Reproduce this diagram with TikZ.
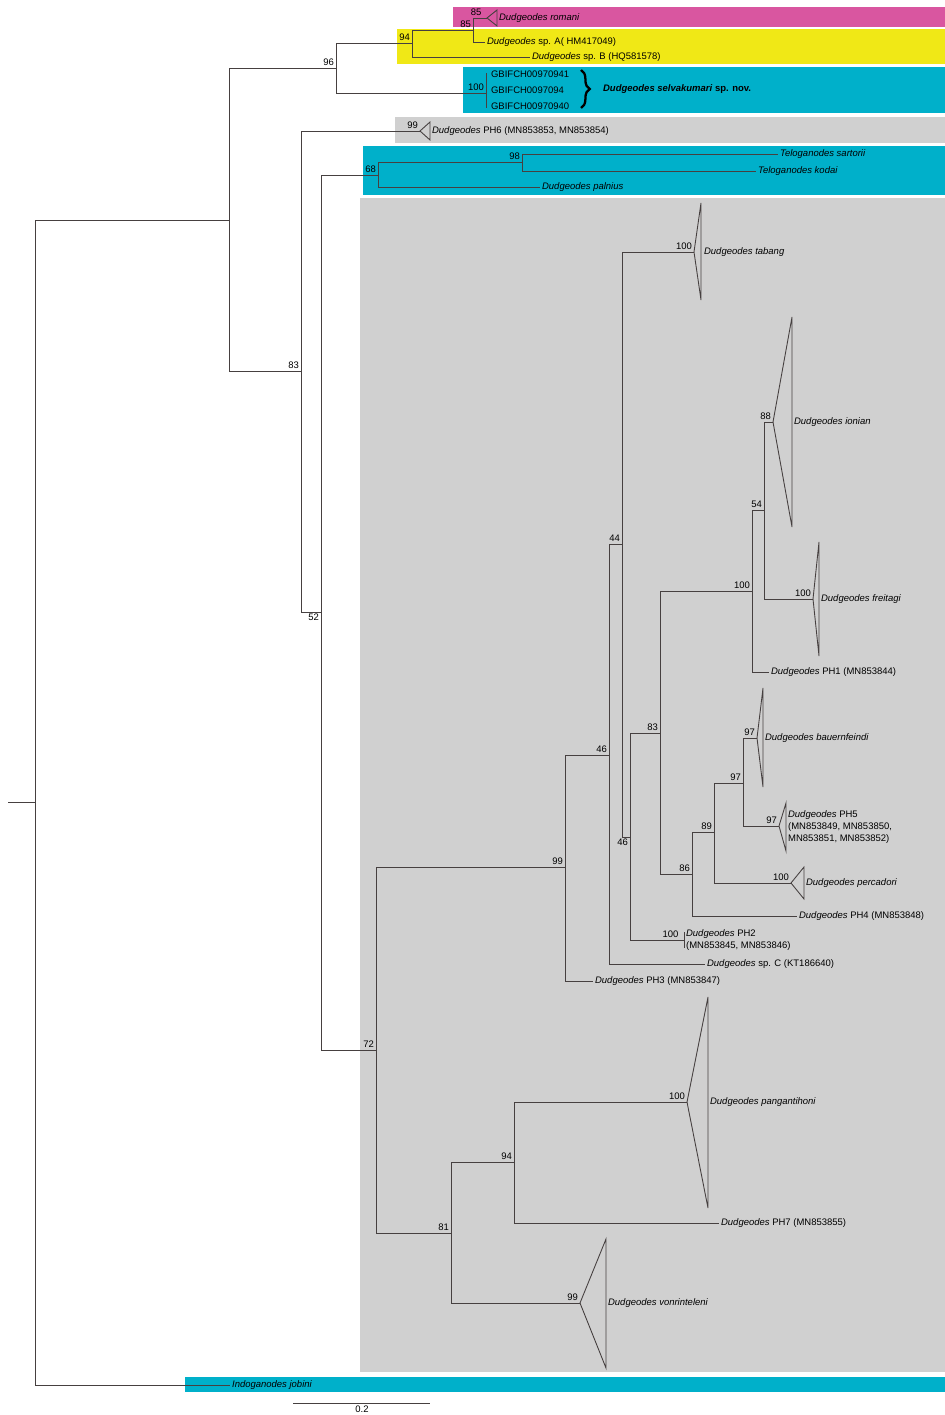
\documentclass[tikz,border=0pt]{standalone}
\usepackage{fontspec}
\setmainfont{Liberation Sans}
\usetikzlibrary{decorations.pathreplacing}

\definecolor{cladepink}{RGB}{217,86,160}
\definecolor{cladeyellow}{RGB}{240,232,22}
\definecolor{cladecyan}{RGB}{0,176,202}
\definecolor{cladegray}{RGB}{208,208,208}
\definecolor{branch}{RGB}{70,64,64}

\begin{document}
\begin{tikzpicture}[
  x=0.02cm, y=-0.02cm,
  every node/.style={font=\fontsize{5.4}{6.6}\selectfont, inner sep=1pt, text=black},
  branchline/.style={draw=branch, line width=0.5pt},
  tri/.style={draw=branch, line width=0.5pt, line join=miter},
  bs/.style={anchor=south east},
  bsbelow/.style={anchor=north east},
  leaf/.style={anchor=west, align=left}
]
  \fill[white] (0,0) rectangle (945,1415);
  \useasboundingbox (0,0) rectangle (945,1415);

  % clade bands
  \fill[cladepink]   (453,7)    rectangle (945,27);
  \fill[cladeyellow] (397,29)   rectangle (945,64);
  \fill[cladecyan]   (463,67)   rectangle (945,113);
  \fill[cladegray]   (395,117)  rectangle (945,143);
  \fill[cladecyan]   (363,146)  rectangle (945,195);
  \fill[cladegray]   (360,198)  rectangle (945,1372);
  \fill[cladecyan]   (185,1377) rectangle (945,1392);

  % internal nodes
  \coordinate (stub)  at (8,802);
  \coordinate (root)  at (35,802);
  \coordinate (nA)    at (229,220);
  \coordinate (n96)   at (336,68);
  \coordinate (n94)   at (412,43);
  \coordinate (n85)   at (473,30);
  \coordinate (n100g) at (486,93);
  \coordinate (n83)   at (301,371);
  \coordinate (n52)   at (321,612);
  \coordinate (n68)   at (378,175);
  \coordinate (n98)   at (522,162);
  \coordinate (n72)   at (376,1050);
  \coordinate (n99)   at (565,867);
  \coordinate (n46u)  at (609,755);
  \coordinate (n44)   at (622,544);
  \coordinate (n46l)  at (630,837);
  \coordinate (n83b)  at (660,733);
  \coordinate (n100b) at (752,591);
  \coordinate (n54)   at (764,510);
  \coordinate (n86)   at (692,874);
  \coordinate (n89)   at (714,832);
  \coordinate (n97)   at (743,783);
  \coordinate (n81)   at (451,1233);
  \coordinate (n94b)  at (514,1162);

  % tips and collapsed clades
  \coordinate (tRomani)  at (487,18);
  \coordinate (tSpA)     at (485,42);
  \coordinate (tSpB)     at (530,57);
  \coordinate (tG1)      at (486,73);
  \coordinate (tG3)      at (486,108);
  \coordinate (tPH6)     at (420,131);
  \coordinate (tSartor)  at (778,154);
  \coordinate (tKodai)   at (756,171);
  \coordinate (tPalnius) at (540,187);
  \coordinate (tTabang)  at (694,252);
  \coordinate (tIonian)  at (773,422);
  \coordinate (tFreitag) at (813,599);
  \coordinate (tPH1)     at (769,672);
  \coordinate (tBauern)  at (757,738);
  \coordinate (tPH5)     at (779,826);
  \coordinate (tPercad)  at (791,883);
  \coordinate (tPH4)     at (797,916);
  \coordinate (tPH2)     at (684,940);
  \coordinate (tSpC)     at (705,964);
  \coordinate (tPH3)     at (593,981);
  \coordinate (tPangan)  at (687,1102);
  \coordinate (tPH7)     at (719,1223);
  \coordinate (tVonrin)  at (580,1303);
  \coordinate (tIndo)    at (230,1385);

  % branches
  \draw[branchline] (stub) -- (root);
  \draw[branchline] (root) |- (nA);
  \draw[branchline] (root) |- (tIndo);
  \draw[branchline] (nA) |- (n96);
  \draw[branchline] (nA) |- (n83);
  \draw[branchline] (n96) |- (n94);
  \draw[branchline] (n96) |- (n100g);
  \draw[branchline] (n94) |- (n85);
  \draw[branchline] (n94) |- (tSpB);
  \draw[branchline] (n85) |- (tRomani);
  \draw[branchline] (n85) |- (tSpA);
  \draw[branchline] (tG1) -- (tG3);
  \draw[branchline] (n83) |- (tPH6);
  \draw[branchline] (n83) |- (n52);
  \draw[branchline] (n52) |- (n68);
  \draw[branchline] (n52) |- (n72);
  \draw[branchline] (n68) |- (n98);
  \draw[branchline] (n68) |- (tPalnius);
  \draw[branchline] (n98) |- (tSartor);
  \draw[branchline] (n98) |- (tKodai);
  \draw[branchline] (n72) |- (n99);
  \draw[branchline] (n72) |- (n81);
  \draw[branchline] (n99) |- (n46u);
  \draw[branchline] (n99) |- (tPH3);
  \draw[branchline] (n46u) |- (n44);
  \draw[branchline] (n46u) |- (tSpC);
  \draw[branchline] (n44) |- (tTabang);
  \draw[branchline] (n44) |- (n46l);
  \draw[branchline] (n46l) |- (n83b);
  \draw[branchline] (n46l) |- (tPH2);
  \draw[branchline] (tPH2) ++(0,-8) -- ++(0,16);
  \draw[branchline] (n83b) |- (n100b);
  \draw[branchline] (n83b) |- (n86);
  \draw[branchline] (n100b) |- (n54);
  \draw[branchline] (n100b) |- (tPH1);
  \draw[branchline] (n54) |- (tIonian);
  \draw[branchline] (n54) |- (tFreitag);
  \draw[branchline] (n86) |- (n89);
  \draw[branchline] (n86) |- (tPH4);
  \draw[branchline] (n89) |- (n97);
  \draw[branchline] (n89) |- (tPercad);
  \draw[branchline] (n97) |- (tBauern);
  \draw[branchline] (n97) |- (tPH5);
  \draw[branchline] (n81) |- (n94b);
  \draw[branchline] (n81) |- (tVonrin);
  \draw[branchline] (n94b) |- (tPangan);
  \draw[branchline] (n94b) |- (tPH7);

  % collapsed clades
  \draw[tri] (tRomani) -- ++(10,-8) -- ++(0,16) -- cycle;
  \draw[tri] (tPH6) -- ++(10,-9) -- ++(0,18) -- cycle;
  \draw[tri] (tTabang) -- ++(7,-49) -- ++(0,97) -- cycle;
  \draw[tri] (tIonian) -- ++(19,-105) -- ++(0,210) -- cycle;
  \draw[tri] (tFreitag) -- ++(6,-57) -- ++(0,114) -- cycle;
  \draw[tri] (tBauern) -- ++(6,-50) -- ++(0,99) -- cycle;
  \draw[tri] (tPH5) -- ++(7,-23) -- ++(0,48) -- cycle;
  \draw[tri] (tPercad) -- ++(13,-16) -- ++(0,32) -- cycle;
  \draw[tri] (tPangan) -- ++(21,-105) -- ++(0,211) -- cycle;
  \draw[tri] (tVonrin) -- ++(26,-64) -- ++(0,129) -- cycle;

  % support values
  \node[bs] at (n96) {96};
  \node[bs] at (n94) {94};
  \node[bs] at (n85) {85};
  \node[bs] at ([xshift=-2]tRomani) {85};
  \node[bs] at (n100g) {100};
  \node[bs] at (tPH6) {99};
  \node[bs] at (n83) {83};
  \node[bsbelow] at (n52) {52};
  \node[bs] at (n68) {68};
  \node[bs] at (n98) {98};
  \node[bs] at (n72) {72};
  \node[bs] at (n99) {99};
  \node[bs] at (n46u) {46};
  \node[bs] at (n44) {44};
  \node[bsbelow] at (n46l) {46};
  \node[bs] at (n83b) {83};
  \node[bs] at (n100b) {100};
  \node[bs] at (n54) {54};
  \node[bs] at (tIonian) {88};
  \node[bs] at (tFreitag) {100};
  \node[bs] at (tTabang) {100};
  \node[bs] at (n86) {86};
  \node[bs] at (n89) {89};
  \node[bs] at (n97) {97};
  \node[bs] at (tBauern) {97};
  \node[bs] at (tPH5) {97};
  \node[bs] at (tPercad) {100};
  \node[bs] at ([xshift=-2]tPH2) {100};
  \node[bs] at (n81) {81};
  \node[bs] at (n94b) {94};
  \node[bs] at (tPangan) {100};
  \node[bs] at (tVonrin) {99};

  % tip labels
  \node[leaf] (lRomani)  at (497,18)  {\textit{Dudgeodes romani}};
  \node[leaf] (lSpA)     at (tSpA)    {\textit{Dudgeodes} sp. A( HM417049)};
  \node[leaf] (lSpB)     at (tSpB)    {\textit{Dudgeodes} sp. B (HQ581578)};
  \node[leaf] (lG1)      at (489,74)  {GBIFCH00970941};
  \node[leaf] (lG2)      at (489,90)  {GBIFCH0097094};
  \node[leaf] (lG3)      at (489,106) {GBIFCH00970940};
  \draw[decorate, decoration={brace, amplitude=5}, line width=1.3pt]
    (581,70) -- (581,108);
  \node[leaf] (lSelva)   at (601,89)  {\textbf{\textit{Dudgeodes selvakumari} sp. nov.}};
  \node[leaf] (lPH6)     at (430,131) {\textit{Dudgeodes} PH6 (MN853853, MN853854)};
  \node[leaf] (lSartor)  at (tSartor) {\textit{Teloganodes sartorii}};
  \node[leaf] (lKodai)   at (tKodai)  {\textit{Teloganodes kodai}};
  \node[leaf] (lPalnius) at (tPalnius) {\textit{Dudgeodes palnius}};
  \node[leaf] (lTabang)  at (702,252) {\textit{Dudgeodes tabang}};
  \node[leaf] (lIonian)  at (792,422) {\textit{Dudgeodes ionian}};
  \node[leaf] (lFreitag) at (819,599) {\textit{Dudgeodes freitagi}};
  \node[leaf] (lPH1)     at (tPH1)    {\textit{Dudgeodes} PH1 (MN853844)};
  \node[leaf] (lBauern)  at (763,738) {\textit{Dudgeodes bauernfeindi}};
  \node[leaf, font=\fontsize{5.4}{7}\selectfont] (lPH5) at (786,827)
    {\textit{Dudgeodes} PH5\\(MN853849, MN853850,\\MN853851, MN853852)};
  \node[leaf] (lPercad)  at (804,883) {\textit{Dudgeodes percadori}};
  \node[leaf] (lPH4)     at (tPH4)    {\textit{Dudgeodes} PH4 (MN853848)};
  \node[leaf, font=\fontsize{5.4}{7}\selectfont] (lPH2) at (tPH2)
    {\textit{Dudgeodes} PH2\\(MN853845, MN853846)};
  \node[leaf] (lSpC)     at (tSpC)    {\textit{Dudgeodes} sp. C (KT186640)};
  \node[leaf] (lPH3)     at (tPH3)    {\textit{Dudgeodes} PH3 (MN853847)};
  \node[leaf] (lPangan)  at (708,1102) {\textit{Dudgeodes pangantihoni}};
  \node[leaf] (lPH7)     at (tPH7)    {\textit{Dudgeodes} PH7 (MN853855)};
  \node[leaf] (lVonrin)  at (606,1303) {\textit{Dudgeodes vonrinteleni}};
  \node[leaf] (lIndo)    at (tIndo)   {\textit{Indoganodes jobini}};

  % scale bar
  \coordinate (sbL) at (293,1403);
  \coordinate (sbR) at (430,1403);
  \draw[branchline] (sbL) -- (sbR);
  \node[anchor=north] (sbLabel) at (362,1404) {0.2};
\end{tikzpicture}
\end{document}
